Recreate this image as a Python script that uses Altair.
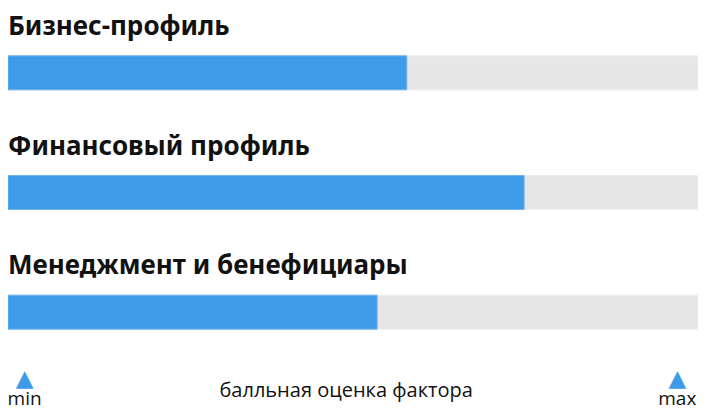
import altair as alt
import pandas as pd

categories = ["Бизнес-профиль", "Финансовый профиль", "Менеджмент и бенефициары"]
scores = [57.8, 74.8, 53.5]
max_scores = [100, 100, 100]
starts = [0, 0, 0]
marker_pos = [2.4, 97.0]
marker_labels = ["min", "max"]
marker_glyphs = ["▲", "▲"]
axis_title = "балльная оценка фактора"
axis_title_pos = 49

BLUE = "#3d9be9"
GRAY = "#e6e6e6"

df = pd.DataFrame({"category": categories, "score": scores, "max": max_scores, "start": starts})
mk = pd.DataFrame({"pos": marker_pos, "label": marker_labels, "glyph": marker_glyphs,
                   "row": [categories[-1]] * len(marker_pos)})
tt = pd.DataFrame({"pos": [axis_title_pos], "label": [axis_title], "row": [categories[-1]]})

xscale = alt.Scale(domain=[0, 100], nice=False, zero=True)
yscale = alt.Scale(domain=categories, paddingInner=0, paddingOuter=0)

base = alt.Chart(df)
y_enc = alt.Y("category:N", scale=yscale, axis=None, sort=categories)

gray = base.mark_bar(height=34, color=GRAY, stroke="#eeeeee", strokeWidth=1).encode(
    x=alt.X("max:Q", scale=xscale, axis=None), y=y_enc
)
blue = base.mark_bar(height=34, color=BLUE, stroke="#6fb4ee", strokeWidth=1).encode(
    x=alt.X("score:Q", scale=xscale, axis=None), y=y_enc
)
titles = base.mark_text(
    align="left", baseline="alphabetic", dy=-38, fontSize=26, fontWeight="bold",
    font="Noto Sans", color="#111111"
).encode(x=alt.X("start:Q", scale=xscale), y=y_enc, text="category:N")

row_y = alt.Y("row:N", scale=yscale, axis=None, sort=categories)

tri = alt.Chart(mk).mark_text(
    align="center", baseline="alphabetic", dy=74, fontSize=23, font="DejaVu Sans", color=BLUE
).encode(x=alt.X("pos:Q", scale=xscale), y=row_y, text="glyph:N")

mk_text = alt.Chart(mk).mark_text(
    align="center", baseline="alphabetic", dy=93, fontSize=19, font="Open Sans", color="#111111"
).encode(x=alt.X("pos:Q", scale=xscale), y=row_y, text="label:N")

t_text = alt.Chart(tt).mark_text(
    align="center", baseline="alphabetic", dy=85, fontSize=20, font="Open Sans", color="#111111"
).encode(x=alt.X("pos:Q", scale=xscale), y=row_y, text="label:N")

chart = alt.layer(gray, blue, titles, tri, mk_text, t_text).properties(
    width=690, height=359,
    autosize=alt.AutoSizeParams(type="none"),
    padding={"left": 0, "top": 5, "right": 0, "bottom": 38},
).configure_view(stroke=None)

chart.save("out.html", embed_options={"renderer": "svg", "actions": False})
